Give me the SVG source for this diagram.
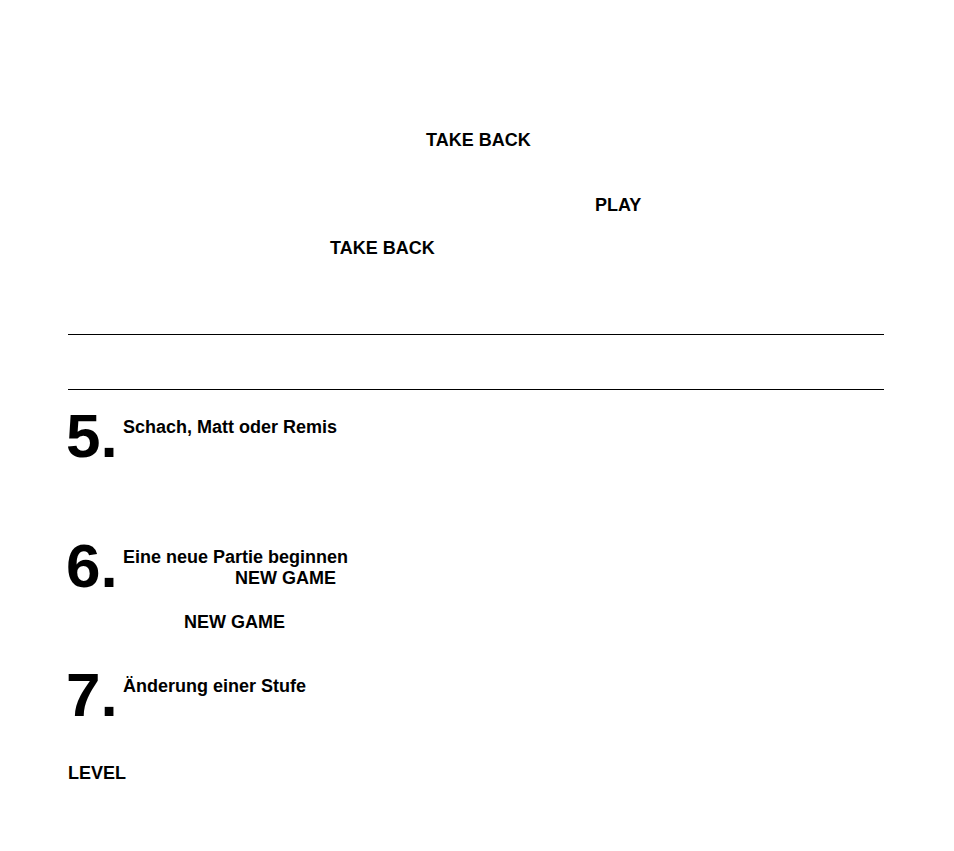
<svg xmlns="http://www.w3.org/2000/svg" width="954" height="851" viewBox="0 0 954 851">
<style>
text{font-family:"Liberation Sans",Arial,sans-serif;font-weight:bold;fill:#000}
.t{font-size:18px}
.b{font-size:62px}
line{stroke:#000;stroke-width:1}
</style>
<rect width="954" height="851" fill="#fff"/>
<g id="texts">
<text class="t" x="426" y="146">TAKE BACK</text>
<text class="t" x="595" y="211">PLAY</text>
<text class="t" x="330" y="254">TAKE BACK</text>
</g>
<g id="rules">
<line x1="68" y1="334.5" x2="884" y2="334.5"/>
<line x1="68" y1="389.5" x2="884" y2="389.5"/>
</g>
<g id="s5">
<text class="b" x="66" y="457">5.</text>
<text class="t" x="123" y="433">Schach, Matt oder Remis</text>
</g>
<g id="s6">
<text class="b" x="66" y="587">6.</text>
<text class="t" x="123" y="563">Eine neue Partie beginnen</text>
<text class="t" x="235" y="584">NEW GAME</text>
<text class="t" x="184" y="628">NEW GAME</text>
</g>
<g id="s7">
<text class="b" x="66" y="716">7.</text>
<text class="t" x="123" y="692">Änderung einer Stufe</text>
<text class="t" x="68" y="779">LEVEL</text>
</g>
</svg>
